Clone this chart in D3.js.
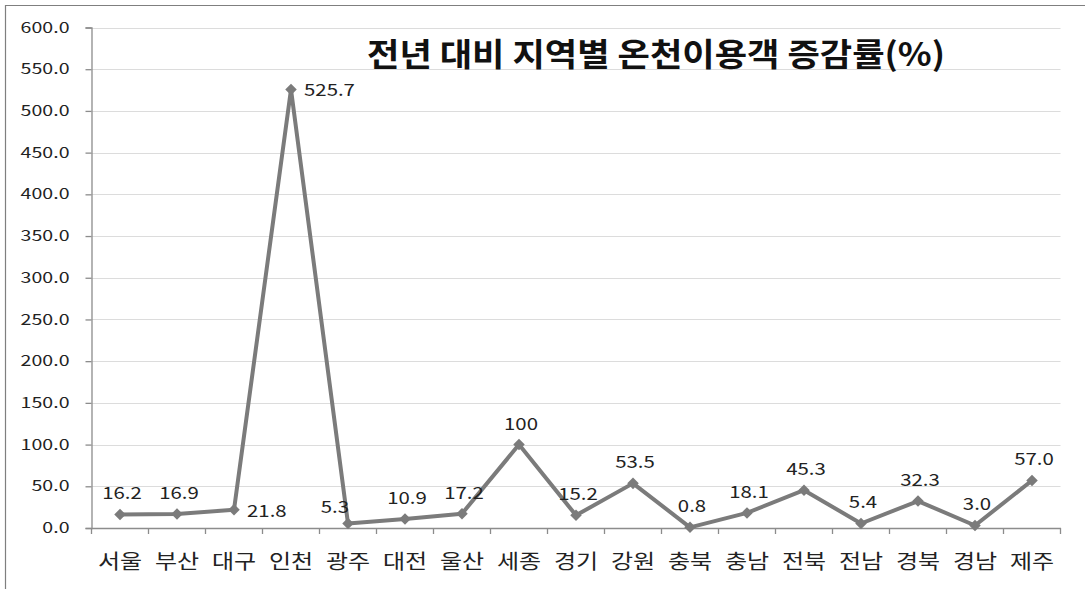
<!DOCTYPE html>
<html>
<head>
<meta charset="utf-8">
<script src="https://cdn.jsdelivr.net/npm/d3@7"></script>
<style>
  html, body { margin: 0; padding: 0; background: #fff; }
  svg { display: block; }
</style>
</head>
<body>
<svg id="chart" width="1090" height="589"></svg>
<script>
//
// Data
//

var regions = ['서울', '부산', '대구', '인천', '광주', '대전', '울산', '세종', '경기',
  '강원', '충북', '충남', '전북', '전남', '경북', '경남', '제주']
var rates = [16.2, 16.9, 21.8, 525.7, 5.3, 10.9, 17.2, 100, 15.2,
  53.5, 0.8, 18.1, 45.3, 5.4, 32.3, 3.0, 57.0]
var rateLabels = ['16.2', '16.9', '21.8', '525.7', '5.3', '10.9', '17.2', '100', '15.2',
  '53.5', '0.8', '18.1', '45.3', '5.4', '32.3', '3.0', '57.0']
// where Excel put each data label
var labelPlace = ['top', 'top', 'right', 'right', 'topLeft', 'top', 'top', 'top', 'top',
  'top', 'top', 'top', 'top', 'top', 'top', 'top', 'top']
var yTicks = [0, 50, 100, 150, 200, 250, 300, 350, 400, 450, 500, 550, 600]
var title = '전년 대비 지역별 온천이용객 증감률(%)'

//
// Config
//

var font = '"Noto Sans CJK KR", "Noto Sans", sans-serif'
var colorLine = '#7b7b7b'
var colorGrid = '#dcdcdc'
var colorAxis = '#8c8c8c'
var colorText = '#222'

var plot = { left: 91.5, right: 1060.5, top: 27.5, bottom: 528 }

var svg = d3.select('#chart')

// the original picture is a bit wider than tall, so text gets stretched sideways
function stretch(sel, k, x, y) {
  sel.attr('x', 0).attr('y', 0)
    .attr('transform', function(d, i) {
      return 'translate(' + x(d, i) + ',' + y(d, i) + ') scale(' + k + ',1)'
    })
}

// outer frame (right and bottom edges are cut off in the picture)
svg.append('path')
  .attr('d', 'M5.5,589 V5.5 H1085')
  .attr('fill', 'none')
  .attr('stroke', '#7f7f7f')
  .attr('stroke-width', 1.2)

var x = d3.scaleBand()
  .domain(regions)
  .range([plot.left, plot.right])

var y = d3.scaleLinear()
  .domain([0, 600])
  .range([plot.bottom, plot.top])

// gridlines
svg.append('g')
  .selectAll('line')
  .data(yTicks.filter(function(d) { return d > 0 }))
  .enter()
  .append('line')
  .attr('x1', plot.left)
  .attr('x2', plot.right)
  .attr('y1', function(d) { return Math.round(y(d)) + 0.5 })
  .attr('y2', function(d) { return Math.round(y(d)) + 0.5 })
  .attr('stroke', colorGrid)
  .attr('stroke-width', 1.2)

// y axis
var yAxis = svg.append('g')
  .attr('transform', 'translate(' + plot.left + ',0)')
  .call(d3.axisLeft(y).tickValues(yTicks).tickFormat(d3.format('.1f')).tickSize(6))
yAxis.select('.domain').attr('stroke', colorAxis).attr('stroke-width', 1.3)
yAxis.selectAll('.tick line').attr('stroke', colorAxis).attr('stroke-width', 1.3)
yAxis.selectAll('text')
  .attr('fill', colorText)
  .style('font-family', font)
  .style('font-size', '14.5px')
  .call(stretch, 1.35, function() { return -22 }, function() { return 0 })

// x axis
var xAxis = svg.append('g')
  .attr('transform', 'translate(0,' + plot.bottom + ')')
  .call(d3.axisBottom(x).tickSize(0))
xAxis.select('.domain').attr('stroke', colorAxis).attr('stroke-width', 1.3)
xAxis.selectAll('text')
  .attr('fill', colorText)
  .attr('dy', null)
  .style('font-family', font)
  .style('font-size', '20px')
  .call(stretch, 1.2, function() { return 0 }, function() { return 41 })

// tick marks on band boundaries
svg.append('g')
  .selectAll('line')
  .data(regions.concat(['end']))
  .enter()
  .append('line')
  .attr('x1', function(d, i) { return plot.left + i * x.step() })
  .attr('x2', function(d, i) { return plot.left + i * x.step() })
  .attr('y1', plot.bottom)
  .attr('y2', plot.bottom + 6)
  .attr('stroke', colorAxis)
  .attr('stroke-width', 1.3)

// line
var cx = function(d, i) { return x(regions[i]) + x.bandwidth() / 2 }
var line = d3.line()
  .x(cx)
  .y(function(d) { return y(d) })

svg.append('path')
  .datum(rates)
  .attr('d', line)
  .attr('fill', 'none')
  .attr('stroke', colorLine)
  .attr('stroke-width', 4)
  .attr('stroke-linejoin', 'round')

// diamond markers
svg.append('g')
  .selectAll('path')
  .data(rates)
  .enter()
  .append('path')
  .attr('d', d3.symbol().type(d3.symbolDiamond2).size(85))
  .attr('transform', function(d, i) { return 'translate(' + cx(d, i) + ',' + y(d) + ')' })
  .attr('fill', colorLine)

// data labels
svg.append('g')
  .selectAll('text')
  .data(rates)
  .enter()
  .append('text')
  .attr('text-anchor', function(d, i) {
    var p = labelPlace[i]
    if (p === 'right') return 'start'
    if (p === 'topLeft') return 'end'
    return 'middle'
  })
  .attr('fill', colorText)
  .style('font-family', font)
  .style('font-size', '17px')
  .text(function(d, i) { return rateLabels[i] })
  .call(stretch, 1.2,
    function(d, i) {
      var p = labelPlace[i]
      if (p === 'right') return cx(d, i) + 13
      if (p === 'topLeft') return cx(d, i) + 1
      return cx(d, i) + 2
    },
    function(d, i) {
      var p = labelPlace[i]
      if (p === 'right') return y(d) + 7
      if (p === 'topLeft') return y(d) - 11
      return y(d) - 15
    })

// title
svg.append('text')
  .attr('text-anchor', 'middle')
  .attr('fill', '#111')
  .style('font-family', font)
  .style('font-size', '32px')
  .style('font-weight', 'bold')
  .text(title)
  .call(stretch, 1.1, function() { return 656 }, function() { return 66 })
</script>
</body>
</html>
